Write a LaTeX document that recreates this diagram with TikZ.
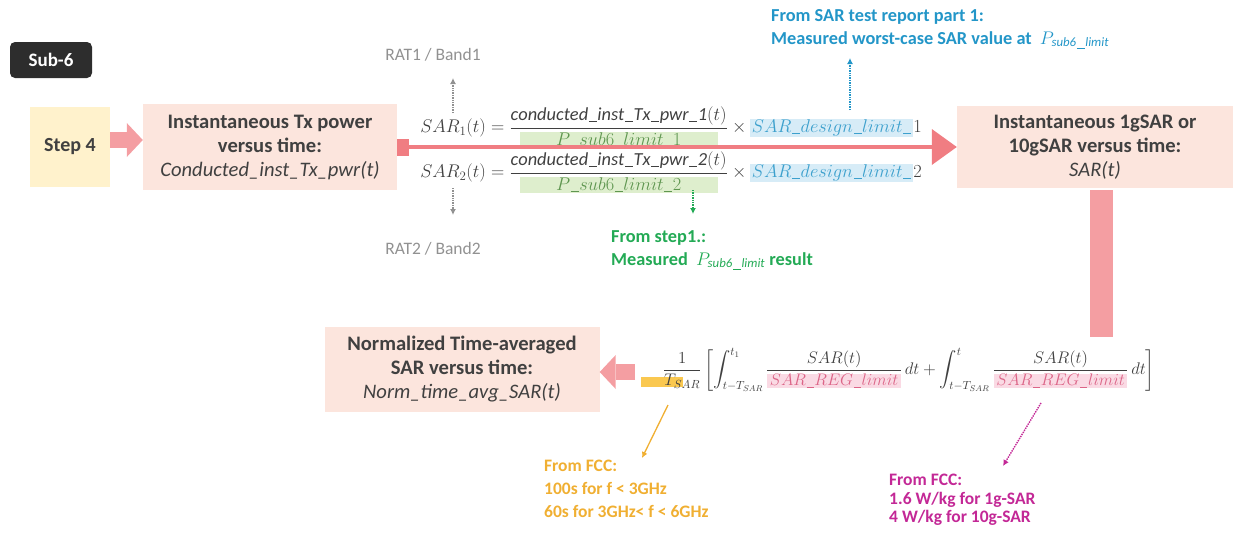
\RequirePackage{fix-cm}
\documentclass[tikz,border=0pt]{standalone}
\usepackage{fontspec}
\setmainfont{Carlito}
\usepackage{amsmath}
\usetikzlibrary{arrows.meta}
\definecolor{txt}{RGB}{64,64,64}
\definecolor{boxpink}{RGB}{252,229,221}
\definecolor{boxyel}{RGB}{255,242,204}
\definecolor{arrpink}{RGB}{244,158,162}
\definecolor{redln}{RGB}{240,125,130}
\definecolor{darkbox}{RGB}{45,45,45}
\definecolor{graytxt}{RGB}{145,145,145}
\definecolor{bluetxt}{RGB}{35,150,200}
\definecolor{greentxt}{RGB}{35,170,85}
\definecolor{orangetxt}{RGB}{240,175,50}
\definecolor{magtxt}{RGB}{195,40,150}
\definecolor{hlgreen}{RGB}{222,238,205}
\definecolor{hlblue}{RGB}{215,236,247}
\definecolor{hlorange}{RGB}{250,200,80}
\definecolor{hlpink}{RGB}{250,218,228}
\definecolor{eqgreen}{RGB}{95,150,80}
\definecolor{eqblue}{RGB}{60,160,205}
\definecolor{eqpink}{RGB}{220,100,135}
\newcommand{\usc}{\kern0.04em\rule[-0.1em]{0.42em}{0.06em}\kern0.04em}
\newcommand{\hlbox}[3]{{\setlength{\fboxsep}{0.5pt}\colorbox{#1}{\hspace{#2}$#3$\hspace{#2}}}}
\begin{document}
\begin{tikzpicture}[x=1pt,y=-1pt,
  boxstyle/.style={fill=boxpink, align=center, text=txt, inner sep=0pt,
    font=\fontsize{20.6}{24}\selectfont\bfseries},
  blockarr/.style={line width=16pt, arrpink,
    -{Triangle[length=16pt,width=34pt,line width=0pt]}},
  note/.style={anchor=north west, align=left, inner sep=0pt,
    font=\fontsize{18.3}{23}\selectfont\bfseries},
  eqstyle/.style={inner sep=0pt, text=txt, font=\fontsize{18.4}{21}\selectfont},
  graylbl/.style={text=graytxt, inner sep=0pt, font=\fontsize{17.5}{20}\selectfont},
  dotarr/.style={densely dotted, line width=1.4pt, -{Latex[length=6pt,width=6pt]}}
]
\useasboundingbox (0,0) rectangle (1235,533);

% boxes
\node[fill=darkbox, rounded corners=5pt, minimum width=82pt, minimum height=36pt,
  text=white, font=\fontsize{19}{22}\selectfont\bfseries, inner sep=0pt] (sub6) at (51,60) {Sub-6};
\node[fill=boxyel, minimum width=80pt, minimum height=80pt, text=txt, inner sep=0pt,
  font=\fontsize{20}{24}\selectfont\bfseries] (step4) at (70,147) {Step 4};
\node[boxstyle, minimum width=254pt, minimum height=86pt] (box1) at (270,147)
  {Instantaneous Tx power\\versus time:\\{\mdseries\itshape Conducted\_inst\_Tx\_pwr(t)}};
\node[boxstyle, minimum width=276pt, minimum height=82pt] (box2) at (1095,147)
  {Instantaneous 1gSAR or\\10gSAR versus time:\\{\mdseries\itshape SAR(t)}};
\node[boxstyle, minimum width=275pt, minimum height=85pt] (box3) at (462,369)
  {Normalized Time-averaged\\SAR versus time:\\{\mdseries\itshape Norm\_time\_avg\_SAR(t)}};

% equations
\node[eqstyle] (eq1) at (671,127) {$\displaystyle SAR_1(t) = \frac{\mathit{conducted\usc inst\usc Tx\usc pwr\usc 1}(t)}{\hlbox{hlgreen}{36pt}{\color{eqgreen}P\usc sub6\usc limit\usc 1}} \times \hlbox{hlblue}{1pt}{\color{eqblue}SAR\usc design\usc limit\usc}1$};
\node[eqstyle] (eq2) at (671,172) {$\displaystyle SAR_2(t) = \frac{\mathit{conducted\usc inst\usc Tx\usc pwr\usc 2}(t)}{\hlbox{hlgreen}{36pt}{\color{eqgreen}P\usc sub6\usc limit\usc 2}} \times \hlbox{hlblue}{1pt}{\color{eqblue}SAR\usc design\usc limit\usc}2$};

\node[eqstyle, font=\fontsize{16.8}{20}\selectfont] (avg) at (909,370) {$\displaystyle \frac{1}{\llap{\setlength{\fboxsep}{0pt}\colorbox{hlorange}{\rule[-1pt]{0pt}{10pt}\hspace{42pt}}\kern-19pt}T_{SAR}}\left[\int_{t-T_{SAR}}^{t_1}\frac{SAR(t)}{\hlbox{hlpink}{2pt}{\color{eqpink}SAR\usc REG\usc limit}}\,dt+\int_{t-T_{SAR}}^{t}\frac{SAR(t)}{\hlbox{hlpink}{2pt}{\color{eqpink}SAR\usc REG\usc limit}}\,dt\right]$};

% block arrows
\draw[blockarr] ([yshift=7pt]step4.east) -- ([yshift=7pt]box1.west);
\coordinate (avgtail) at (635,372);
\draw[blockarr] (avgtail) -- (avgtail -| box3.east);
\draw[line width=4.5pt, redln,
  {Rectangle[length=12pt,width=17pt,line width=0pt]}-{Triangle[length=25pt,width=36pt,line width=0pt]}]
  (box1.east) -- (box2.west);
\coordinate (barend) at (1101.5,337);
\draw[line width=23pt, arrpink, shorten <=2pt] (barend |- box2.south) -- (barend);

% labels
\node[graylbl] (rat1) at (433,55) {RAT1 / Band1};
\node[graylbl] (rat2) at (433,249) {RAT2 / Band2};
\coordinate (r1s) at (453,113);
\coordinate (r1e) at (453,78);
\coordinate (r2s) at (453,188);
\coordinate (r2e) at (453,215);
\draw[dotarr, graytxt] (r1s) -- (r1e);
\draw[dotarr, graytxt] (r2s) -- (r2e);

\node[note, text=bluetxt] (bluenote) at (771,9)
  {From SAR test report part 1:\\Measured worst-case SAR value at \ {\mdseries$P_{\mathit{sub6\usc limit}}$}};
\coordinate (bs) at (850,110);
\coordinate (be) at (850,58);
\draw[dotarr, bluetxt] (bs) -- (be);

\node[note, text=greentxt] (greennote) at (611,230)
  {From step1.:\\Measured \ {\mdseries$P_{\mathit{sub6\usc limit}}$} result};
\coordinate (gs) at (693,190);
\coordinate (ge) at (693,214);
\draw[dotarr, greentxt] (gs) -- (ge);

\node[note, text=orangetxt, font=\fontsize{17.5}{23}\selectfont\bfseries] (orangenote) at (544,460)
  {From FCC:\\100s for f < 3GHz\\60s for 3GHz< f < 6GHz};
\coordinate (os) at (668,405);
\coordinate (oe) at (642,458);
\draw[line width=1.3pt, orangetxt, -{Latex[length=6pt,width=6pt]}] (os) -- (oe);

\node[note, text=magtxt, font=\fontsize{17.5}{18.5}\selectfont\bfseries] (magnote) at (889,474)
  {From FCC:\\1.6 W/kg for 1g-SAR\\4 W/kg for 10g-SAR};
\coordinate (ms) at (1041,403);
\coordinate (me) at (1003,466);
\draw[dotarr, magtxt] (ms) -- (me);
\end{tikzpicture}
\end{document}
